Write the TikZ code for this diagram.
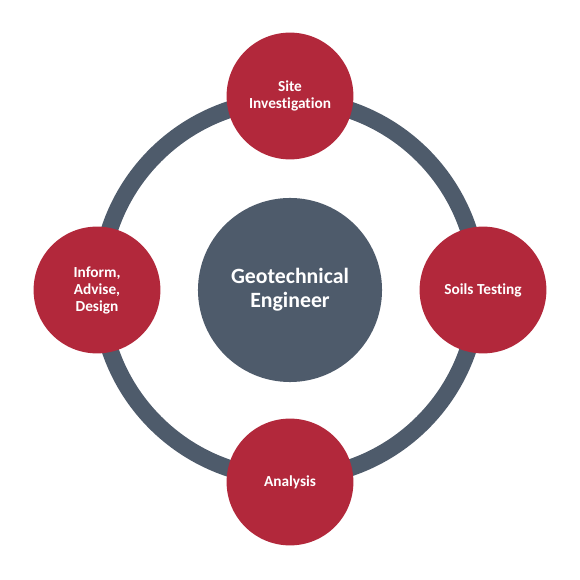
\documentclass[tikz,border=0pt]{standalone}
\usepackage{fontspec}
\setmainfont{Carlito}[Ligatures={NoCommon,NoRare,NoContextual}]
\usetikzlibrary{positioning}
\definecolor{GeoSlate}{HTML}{4E5B6B}
\definecolor{GeoRed}{HTML}{B2283B}

\begin{document}
\begin{tikzpicture}[
    x=0.025cm,y=0.025cm,
    task/.style={
      circle,
      fill=GeoRed,
      minimum size=3.17cm,
      inner sep=0pt,
      align=center,
      text=white,
      font=\bfseries\fontsize{10.9}{12.1}\selectfont
    }
  ]

    \useasboundingbox (0,0) rectangle (580,580);

    % ring behind everything
    \coordinate (hub) at (289,291);
    \draw[GeoSlate,line width=0.425cm]
      (hub) circle[radius=189];

    \node[
      circle,
      fill=GeoSlate,
      minimum size=4.6cm,
      inner sep=0pt,
      align=center,
      text=white,
      font=\bfseries\fontsize{15.5}{17}\selectfont
    ] (geo) at (290,290)
      {Geotechnical\\Engineer};

    \node[task] (site) at (290,484)
      {Site\\Investigation};

    \node[task] (soils) at (483,290)
      {Soils Testing};

    \node[task] (analysis) at (290,98)
      {Analysis};

    \node[task] (inform) at (97,290)
      {Inform,\\Advise,\\Design};

  \end{tikzpicture}
\end{document}
